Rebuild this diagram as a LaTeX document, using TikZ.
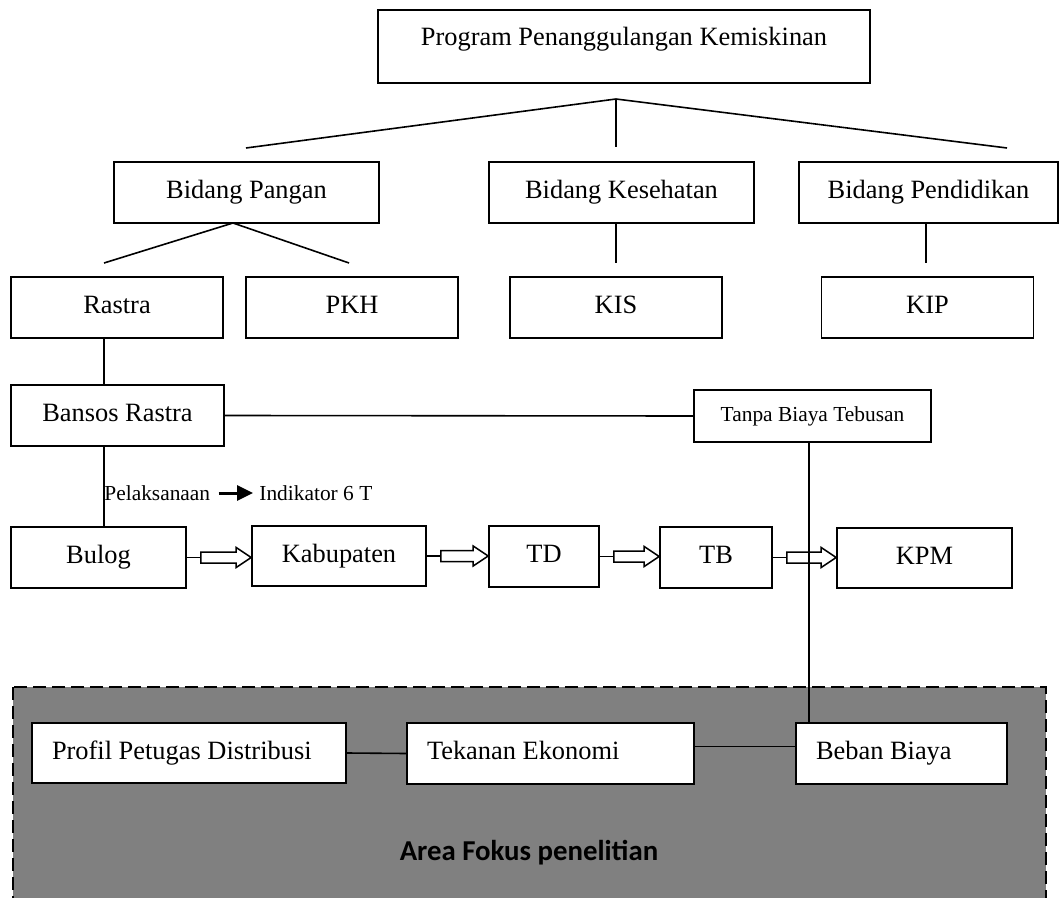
\documentclass[tikz,border=0pt]{standalone}
\usepackage{fontspec}
\setmainfont{Liberation Serif}
\newfontfamily\carlito{Carlito}
\usetikzlibrary{calc, arrows.meta}

\begin{document}
\begin{tikzpicture}[
  x=0.5pt, y=-0.5pt,
  font=\fontsize{13.2}{15}\selectfont,
  box/.style={draw, line width=0.8pt, fill=white, inner sep=0pt, minimum height=30.5pt, text height=9pt, text depth=3pt},
  focusbox/.style={box, align=flush left, inner xsep=10pt},
  small/.style={font=\fontsize{10.7}{12}\selectfont},
  link/.style={line width=0.8pt},
  hollow/.style={draw, line width=0.75pt, fill=white}
]
  \useasboundingbox (0,0) rectangle (1059,898);
  \draw[fill=gray, line width=1pt, dash pattern=on 6.5pt off 3pt] (13,687) rectangle (1046,915);

  \node[box, minimum width=246pt, minimum height=36.5pt, text height=18pt, text depth=18.5pt] (prog) at (624,46.5) {Program Penanggulangan Kemiskinan};
  \node[box, minimum width=132.5pt] (pangan) at (246.5,192.5) {Bidang Pangan};
  \node[box, minimum width=132.5pt] (kesehatan) at (621.5,192.5) {Bidang Kesehatan};
  \node[box, minimum width=129.5pt] (pendidikan) at (928.5,192.5) {Bidang Pendidikan};

  \foreach \n/\t/\x in {rastra/Rastra/117, pkh/PKH/352, kis/KIS/616, kip/KIP/927.5}
    \node[box, minimum width=106pt] (\n) at (\x,307.5) {\t};

  \node[box, minimum width=106.5pt] (bansos) at (117.5,415.5) {Bansos Rastra};
  \node[box, small, minimum width=118.5pt, minimum height=26pt, text height=7.5pt, text depth=2.5pt] (tanpa) at (812.5,416) {Tanpa Biaya Tebusan};

  \node[small, anchor=west, inner sep=0pt] (pel) at (104,493) {Pelaksanaan};
  \node[small, anchor=west, inner sep=0pt] (ind) at (259,493) {Indikator 6 T};
  \draw[-{Triangle[length=8pt, width=7.5pt]}, line width=1.5pt] ([xshift=4pt]pel.east) -- ([xshift=-3pt]ind.west);

  \node[box, minimum width=87.5pt] (bulog) at (98.5,557.5) {Bulog};
  \node[box, minimum width=87pt, minimum height=30pt] (kab) at (339,556) {Kabupaten};
  \node[box, minimum width=55pt] (td) at (544,556.5) {TD};
  \node[box, minimum width=56pt] (tb) at (716,557.5) {TB};
  \node[box, minimum width=87.5pt, minimum height=30pt] (kpm) at (924.5,558) {KPM};

  \node[focusbox, text width=137pt, minimum height=30pt] (profil) at (189,753) {Profil Petugas Distribusi};
  \node[focusbox, text width=123.5pt] (tekanan) at (550.5,753.5) {Tekanan Ekonomi};
  \node[focusbox, text width=85.5pt] (beban) at (901.5,753.5) {Beban Biaya};
  \node[font=\carlito\bfseries\fontsize{14.4}{16}\selectfont] (area) at (529,853) {Area Fokus penelitian};

  \coordinate (apex) at (616,99);
  \coordinate (pangan-top) at (246,148);
  \coordinate (kes-top) at (616,147);
  \coordinate (pend-top) at (1007,148);
  \foreach \e in {pangan-top, kes-top, pend-top}
    \draw[link] (apex) -- (\e);

  \coordinate (pa) at (233,223);
  \coordinate (rastra-top) at (104,263);
  \coordinate (pkh-top) at (349,263);
  \draw[link] (pa) -- (rastra-top);
  \draw[link] (pa) -- (pkh-top);
  \coordinate (kx) at (616,263);
  \coordinate (px) at (926,263);
  \draw[link] (kesehatan.south -| kx) -- (kx);
  \draw[link] (pendidikan.south -| px) -- (px);

  \coordinate (lx) at (104,0);
  \draw[link] (lx |- rastra.south) -- (lx |- bansos.north);
  \draw[link] (lx |- bansos.south) -- (lx |- bulog.north);
  \draw[link] (bansos.east) -- (tanpa.west);

  \foreach \src/\dst in {bulog/kab, kab/td, td/tb, tb/kpm}{
    \draw[link] (\src.east) -- ++(7pt,0) coordinate (t\src);
    \draw[hollow] ($(t\src)+(0,2.75pt)$) -- ($(\dst.west |- t\src)+(-7.5pt,2.75pt)$)
      -- ($(\dst.west |- t\src)+(-7.5pt,5pt)$) -- (\dst.west |- t\src)
      -- ($(\dst.west |- t\src)+(-7.5pt,-5pt)$) -- ($(\dst.west |- t\src)+(-7.5pt,-2.75pt)$)
      -- ($(t\src)+(0,-2.75pt)$) -- cycle;
  }

  \coordinate (vx) at (809,0);
  \draw[link] (vx |- tanpa.south) -- (vx |- beban.north);
  \draw[link] (profil.east) -- (tekanan.west);
  \draw[link] ([yshift=3.5pt]tekanan.east) -- ([yshift=3.5pt]beban.west);
\end{tikzpicture}
\end{document}
